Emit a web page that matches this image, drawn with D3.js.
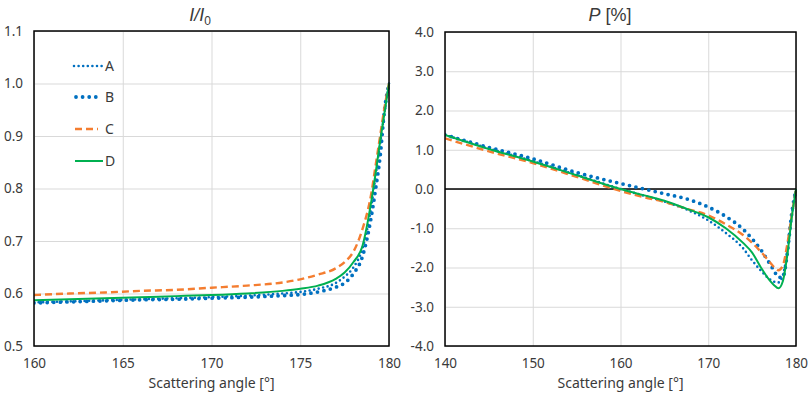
<!DOCTYPE html>
<html>
<head>
<meta charset="utf-8">
<script src="https://cdn.jsdelivr.net/npm/d3@7"></script>
<style>
  body { margin: 0; background: #fff; }
  text { font-family: "Noto Sans", "Open Sans", sans-serif; fill: #3a3a3a; }
  .title { font-family: "Liberation Sans", "DejaVu Sans", sans-serif; }
</style>
</head>
<body>
<div id="chart"></div>
<script>
// I/I0 data (left panel)
var angleI = [160, 162, 164, 166, 168, 170, 172, 174, 175, 176, 177, 177.5, 178, 178.5, 179, 179.25, 179.5, 179.75, 180];
var iA = [0.583, 0.585, 0.587, 0.589, 0.591, 0.593, 0.596, 0.600, 0.603, 0.609, 0.620, 0.632, 0.650, 0.685, 0.765, 0.825, 0.885, 0.945, 1.0];
var iB = [0.582, 0.584, 0.586, 0.588, 0.589, 0.591, 0.593, 0.596, 0.598, 0.603, 0.612, 0.620, 0.638, 0.670, 0.746, 0.800, 0.861, 0.950, 1.0];
var iC = [0.597, 0.600, 0.602, 0.605, 0.607, 0.611, 0.615, 0.621, 0.627, 0.636, 0.648, 0.660, 0.680, 0.722, 0.790, 0.845, 0.900, 0.955, 1.0];
var iD = [0.587, 0.589, 0.591, 0.593, 0.595, 0.597, 0.600, 0.605, 0.609, 0.615, 0.628, 0.640, 0.660, 0.690, 0.775, 0.830, 0.890, 0.945, 1.0];

// P data (right panel)
var angleP = [140, 145, 150, 155, 160, 162.5, 165, 167.5, 170, 172, 174, 175, 176, 177, 177.5, 178, 178.5, 179, 179.5, 180];
var pA = [1.38, 1.03, 0.71, 0.36, 0.0, -0.16, -0.32, -0.52, -0.80, -1.12, -1.52, -1.82, -2.08, -2.30, -2.36, -2.38, -2.20, -1.60, -0.70, 0.0];
var pB = [1.38, 1.06, 0.77, 0.42, 0.14, 0.01, -0.12, -0.25, -0.46, -0.70, -1.03, -1.27, -1.55, -1.90, -2.08, -2.25, -2.25, -1.65, -0.65, 0.0];
var pC = [1.29, 0.96, 0.66, 0.31, -0.05, -0.20, -0.33, -0.50, -0.67, -0.90, -1.18, -1.37, -1.60, -1.86, -1.99, -2.07, -1.95, -1.42, -0.70, 0.0];
var pD = [1.38, 1.02, 0.70, 0.35, 0.0, -0.15, -0.30, -0.50, -0.72, -1.00, -1.38, -1.62, -2.00, -2.33, -2.45, -2.53, -2.35, -1.70, -0.75, 0.0];

var seriesNames = ["A", "B", "C", "D"];

// line styles per series
var styles = {
  A: { color: "#0070C0", width: 2.6, dash: "0,4.6", cap: "round" },
  B: { color: "#0070C0", width: 3.8, dash: "0,6.6", cap: "round" },
  C: { color: "#F47D30", width: 2.4, dash: "7,4", cap: "butt" },
  D: { color: "#00B050", width: 2, dash: null, cap: "butt" }
};

var svg = d3.select("#chart").append("svg")
  .attr("width", 809)
  .attr("height", 396);

var fmt = d => d.toFixed(1);

function panel(opts) {
  var x = d3.scaleLinear().domain(opts.xDomain).range([opts.left, opts.right]);
  var y = d3.scaleLinear().domain(opts.yDomain).range([opts.bottom, opts.top]);
  var g = svg.append("g");

  // gridlines
  g.append("g")
    .attr("transform", `translate(0, ${opts.bottom})`)
    .call(d3.axisBottom(x).tickValues(opts.xTicks).tickSize(-(opts.bottom - opts.top)).tickFormat(""))
    .call(a => a.select(".domain").remove())
    .selectAll("line").attr("stroke", "#d9d9d9");
  g.append("g")
    .attr("transform", `translate(${opts.left}, 0)`)
    .call(d3.axisLeft(y).tickValues(opts.yTicks).tickSize(-(opts.right - opts.left)).tickFormat(""))
    .call(a => a.select(".domain").remove())
    .selectAll("line").attr("stroke", "#d9d9d9");

  // tick labels
  var xAx = g.append("g")
    .attr("transform", `translate(0, ${opts.bottom})`)
    .call(d3.axisBottom(x).tickValues(opts.xTicks).tickSize(0).tickPadding(12).tickFormat(d3.format("d")));
  xAx.select(".domain").remove();
  xAx.selectAll("text").style("font-size", "13.5px").attr("fill", "#3a3a3a");

  var yAx = g.append("g")
    .attr("transform", `translate(${opts.left}, 0)`)
    .call(d3.axisLeft(y).tickValues(opts.yTicks).tickSize(0).tickPadding(11).tickFormat(fmt));
  yAx.select(".domain").remove();
  yAx.selectAll("text").style("font-size", "13.5px").attr("fill", "#3a3a3a");

  // zero line
  if (opts.zero) {
    g.append("line")
      .attr("x1", opts.left).attr("x2", opts.right)
      .attr("y1", y(0)).attr("y2", y(0))
      .attr("stroke", "#000").attr("stroke-width", 1.5);
  }

  var clipId = "clip" + opts.left;
  svg.append("clipPath").attr("id", clipId)
    .append("rect")
    .attr("x", opts.left).attr("y", opts.top - 3)
    .attr("width", opts.right - opts.left + 3)
    .attr("height", opts.bottom - opts.top + 3);

  var line = d3.line()
    .x(d => x(d[0]))
    .y(d => y(d[1]))
    .curve(d3.curveMonotoneX);

  opts.series.forEach(function(s, i) {
    var st = styles[seriesNames[i]];
    var pts = opts.angles.map((a, j) => [a, s[j]]);
    g.append("path")
      .datum(pts)
      .attr("clip-path", `url(#${clipId})`)
      .attr("fill", "none")
      .attr("stroke", st.color)
      .attr("stroke-width", st.width)
      .attr("stroke-linecap", st.cap)
      .attr("stroke-dasharray", st.dash)
      .attr("d", line);
  });

  // plot border
  g.append("rect")
    .attr("x", opts.left).attr("y", opts.top)
    .attr("width", opts.right - opts.left)
    .attr("height", opts.bottom - opts.top)
    .attr("fill", "none")
    .attr("stroke", "#000")
    .attr("stroke-width", 1.5);

  // axis title
  g.append("text")
    .attr("x", (opts.left + opts.right) / 2)
    .attr("y", 388)
    .attr("text-anchor", "middle")
    .style("font-size", "14px")
    .text("Scattering angle [°]");

  return { x: x, y: y, g: g };
}

var left = panel({
  left: 34, right: 389, top: 31, bottom: 346,
  xDomain: [160, 180], yDomain: [0.5, 1.1],
  xTicks: [160, 165, 170, 175, 180],
  yTicks: [0.5, 0.6, 0.7, 0.8, 0.9, 1.0, 1.1],
  angles: angleI, series: [iA, iB, iC, iD]
});

var right = panel({
  left: 445, right: 796, top: 32, bottom: 346,
  xDomain: [140, 180], yDomain: [-4, 4],
  xTicks: [140, 150, 160, 170, 180],
  yTicks: [-4, -3, -2, -1, 0, 1, 2, 3, 4],
  angles: angleP, series: [pA, pB, pC, pD],
  zero: true
});

// titles
var t1 = svg.append("text")
  .attr("class", "title")
  .attr("x", 200).attr("y", 21)
  .attr("text-anchor", "middle")
  .style("font-size", "18px");
t1.append("tspan").style("font-style", "italic").text("I/I");
t1.append("tspan").attr("dy", 4).style("font-size", "12px").text("0");

var t2 = svg.append("text")
  .attr("class", "title")
  .attr("x", 610).attr("y", 21)
  .attr("text-anchor", "middle")
  .style("font-size", "18px");
t2.append("tspan").style("font-style", "italic").text("P");
t2.append("tspan").text(" [%]");

// legend
var legendRows = [
  { name: "A", y: 66, x1: 74, x2: 103 },
  { name: "B", y: 97, x1: 76, x2: 98 },
  { name: "C", y: 129, x1: 75, x2: 98 },
  { name: "D", y: 161, x1: 75, x2: 103 }
];
legendRows.forEach(function(r) {
  var st = styles[r.name];
  svg.append("line")
    .attr("x1", r.x1).attr("x2", r.x2)
    .attr("y1", r.y).attr("y2", r.y)
    .attr("stroke", st.color)
    .attr("stroke-width", st.width)
    .attr("stroke-linecap", st.cap)
    .attr("stroke-dasharray", st.dash);
  svg.append("text")
    .attr("x", 105).attr("y", r.y + 5)
    .style("font-size", "14px")
    .text(r.name);
});
</script>
</body>
</html>
